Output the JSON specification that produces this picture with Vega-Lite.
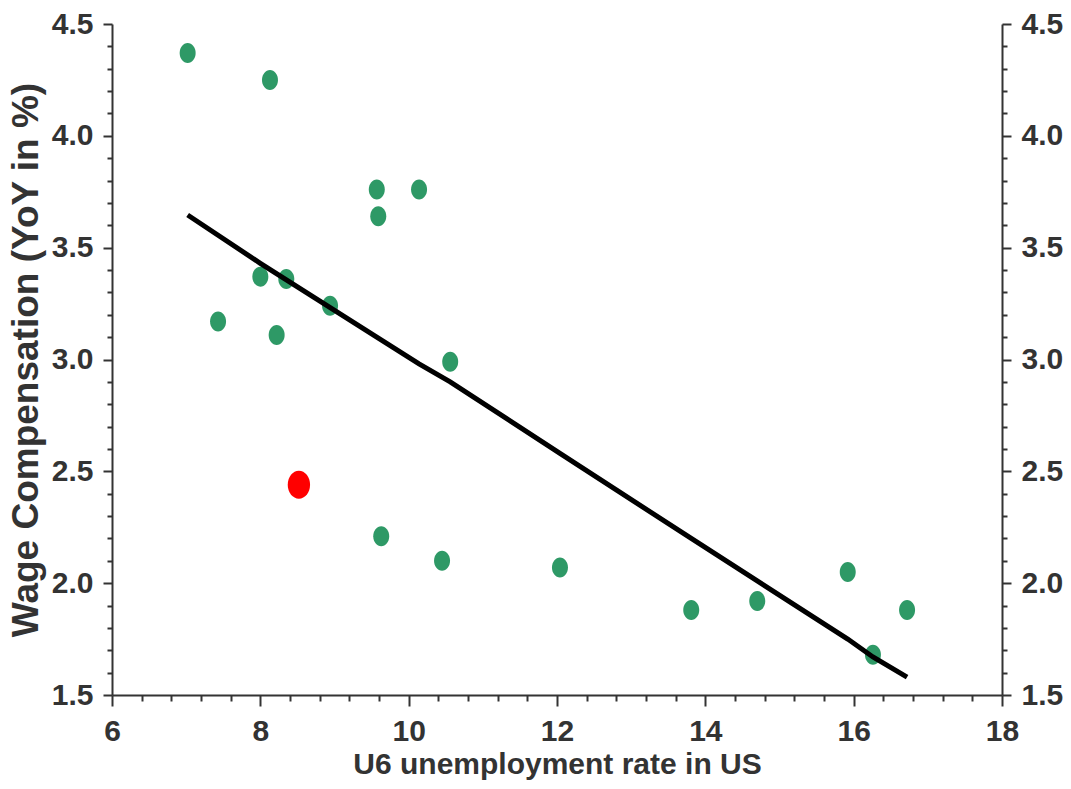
{
  "$schema": "https://vega.github.io/schema/vega-lite/v6.json",
  "width": 890,
  "height": 671,
  "autosize": "none",
  "padding": {"left": 112, "top": 24, "right": 69, "bottom": 94},
  "background": "white",
  "config": {
    "view": {"stroke": null},
    "axis": {
      "grid": false,
      "domainColor": "#333333",
      "tickColor": "#333333",
      "labelColor": "#333333",
      "titleColor": "#333333",
      "domainWidth": 2,
      "tickWidth": 2,
      "labelFlush": false,
      "labelOverlap": false,
      "labelFont": "Liberation Sans",
      "labelFontWeight": "bold",
      "labelFontSize": 30,
      "titleFont": "Liberation Sans",
      "titleFontWeight": "bold"
    }
  },
  "datasets": {
    "green": [
      {"u6": 7.02, "wage": 4.37},
      {"u6": 8.13, "wage": 4.25},
      {"u6": 9.57, "wage": 3.76},
      {"u6": 10.14, "wage": 3.76},
      {"u6": 9.59, "wage": 3.64},
      {"u6": 8.0, "wage": 3.37},
      {"u6": 8.35, "wage": 3.36},
      {"u6": 8.94, "wage": 3.24},
      {"u6": 7.43, "wage": 3.17},
      {"u6": 8.22, "wage": 3.11},
      {"u6": 10.56, "wage": 2.99},
      {"u6": 9.63, "wage": 2.21},
      {"u6": 10.45, "wage": 2.1},
      {"u6": 12.04, "wage": 2.07},
      {"u6": 13.81, "wage": 1.88},
      {"u6": 14.7, "wage": 1.92},
      {"u6": 15.92, "wage": 2.05},
      {"u6": 16.72, "wage": 1.88},
      {"u6": 16.26, "wage": 1.68}
    ],
    "red": [
      {"u6": 8.52, "wage": 2.44}
    ],
    "fit": [
      {"u6": 7.02, "wage": 3.646},
      {"u6": 8.0, "wage": 3.43},
      {"u6": 9.57, "wage": 3.1},
      {"u6": 10.14, "wage": 2.98},
      {"u6": 10.56, "wage": 2.9},
      {"u6": 12.04, "wage": 2.58},
      {"u6": 13.81, "wage": 2.2},
      {"u6": 14.7, "wage": 2.01},
      {"u6": 15.92, "wage": 1.75},
      {"u6": 16.26, "wage": 1.67},
      {"u6": 16.72, "wage": 1.58}
    ]
  },
  "layer": [
    {
      "data": {"name": "green"},
      "mark": {
        "type": "point",
        "filled": true,
        "opacity": 1,
        "color": "#2e9966",
        "shape": "M -0.8 0 A 0.8 1 0 1 1 0.8 0 A 0.8 1 0 1 1 -0.8 0 Z",
        "size": 400
      },
      "encoding": {
        "x": {
          "field": "u6", "type": "quantitative",
          "scale": {"domain": [6, 18], "nice": false, "zero": false},
          "axis": {
            "orient": "bottom",
            "values": [6, 8, 10, 12, 14, 16, 18],
            "tickSize": 11,
            "labelPadding": 10,
            "title": "U6 unemployment rate in US",
            "titleFontSize": 30,
            "titlePadding": 3
          }
        },
        "y": {
          "field": "wage", "type": "quantitative",
          "scale": {"domain": [1.5, 4.5], "nice": false, "zero": false},
          "axis": {
            "orient": "left",
            "values": [1.5, 2.0, 2.5, 3.0, 3.5, 4.0, 4.5],
            "format": ".1f",
            "tickSize": 9,
            "labelPadding": 10,
            "title": "Wage Compensation (YoY in %)",
            "titleFontSize": 37,
            "titlePadding": 6
          }
        }
      }
    },
    {
      "data": {"name": "red"},
      "mark": {
        "type": "point",
        "filled": true,
        "opacity": 1,
        "color": "#ff0000",
        "shape": "M -0.8 0 A 0.8 1 0 1 1 0.8 0 A 0.8 1 0 1 1 -0.8 0 Z",
        "size": 780
      },
      "encoding": {
        "x": {
          "field": "u6", "type": "quantitative",
          "axis": {
            "orient": "bottom",
            "values": [6.4, 6.8, 7.2, 7.6, 8.4, 8.8, 9.2, 9.6, 10.4, 10.8, 11.2, 11.6, 12.4, 12.8, 13.2, 13.6, 14.4, 14.8, 15.2, 15.6, 16.4, 16.8, 17.2, 17.6],
            "tickSize": 6,
            "labels": false,
            "domain": false,
            "title": null
          }
        },
        "y": {
          "field": "wage", "type": "quantitative",
          "axis": {
            "orient": "left",
            "values": [1.6, 1.7, 1.8, 1.9, 2.1, 2.2, 2.3, 2.4, 2.6, 2.7, 2.8, 2.9, 3.1, 3.2, 3.3, 3.4, 3.6, 3.7, 3.8, 3.9, 4.1, 4.2, 4.3, 4.4],
            "tickSize": 5,
            "labels": false,
            "domain": false,
            "title": null
          }
        }
      }
    },
    {
      "data": {"name": "fit"},
      "mark": {"type": "line", "color": "#000000", "strokeWidth": 5},
      "encoding": {
        "x": {"field": "u6", "type": "quantitative", "axis": null},
        "y": {
          "field": "wage", "type": "quantitative",
          "axis": {
            "orient": "right",
            "values": [1.5, 2.0, 2.5, 3.0, 3.5, 4.0, 4.5],
            "format": ".1f",
            "tickSize": 9,
            "labelPadding": 10,
            "title": null
          }
        }
      }
    },
    {
      "data": {"name": "fit"},
      "mark": {"type": "point", "opacity": 0},
      "encoding": {
        "x": {"field": "u6", "type": "quantitative", "axis": null},
        "y": {
          "field": "wage", "type": "quantitative",
          "axis": {
            "orient": "right",
            "values": [1.6, 1.7, 1.8, 1.9, 2.1, 2.2, 2.3, 2.4, 2.6, 2.7, 2.8, 2.9, 3.1, 3.2, 3.3, 3.4, 3.6, 3.7, 3.8, 3.9, 4.1, 4.2, 4.3, 4.4],
            "tickSize": 5,
            "labels": false,
            "domain": false,
            "title": null
          }
        }
      }
    }
  ],
  "resolve": {"axis": {"x": "independent", "y": "independent"}}
}
